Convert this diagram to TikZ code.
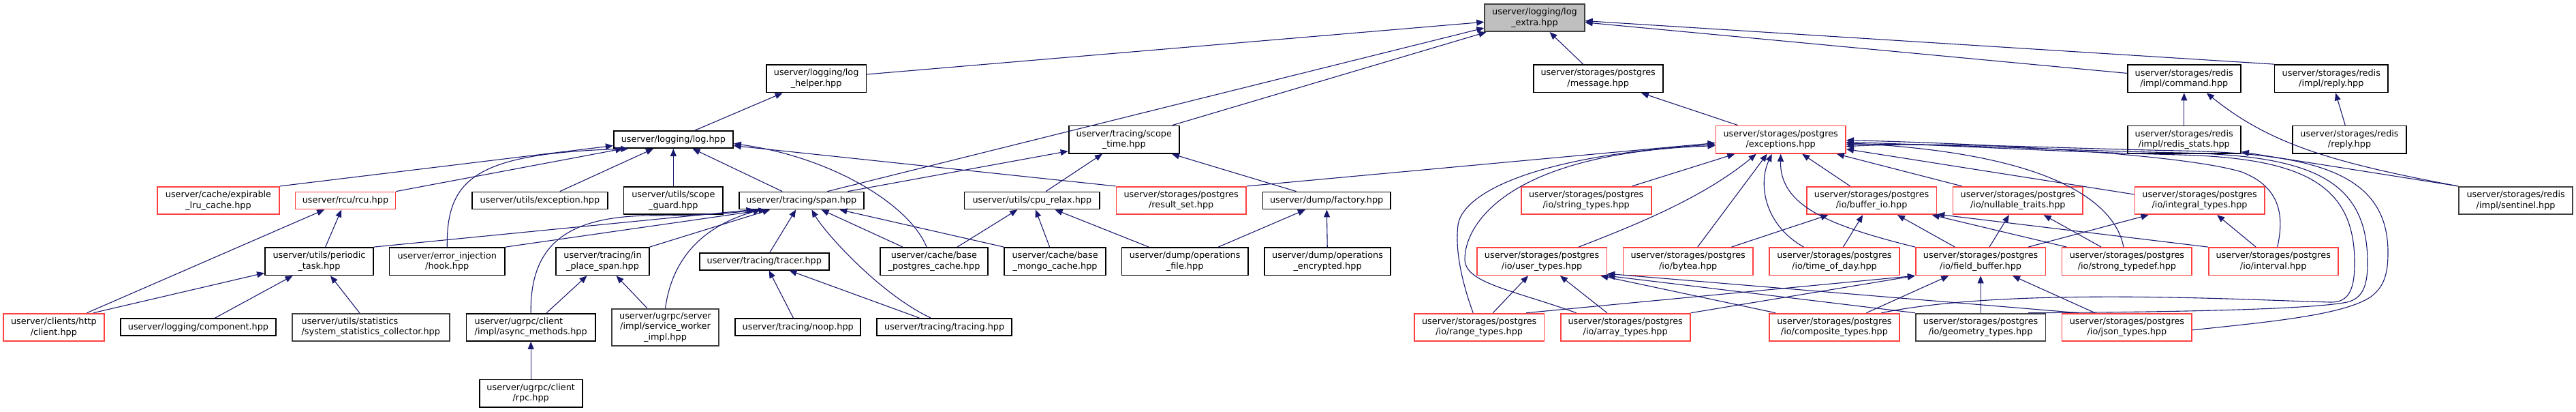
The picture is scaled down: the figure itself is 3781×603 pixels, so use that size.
\documentclass[tikz,border=0pt]{standalone}
\usepackage{fontspec}
\usetikzlibrary{arrows.meta}
\newfontfamily\dejavu{DejaVu Sans}
\newcommand\nfont{\dejavu\fontsize{12.84}{15.4}\selectfont}
\definecolor{edgec}{HTML}{191970}
\definecolor{redb}{HTML}{FF4040}
\definecolor{greyb}{HTML}{404040}
\definecolor{rootfill}{HTML}{BFBFBF}
\tikzset{
  box/.style={draw=black, line width=1.8pt, fill=white, inner sep=0pt, align=center, font=\nfont, minimum height=40.4pt},
  redbox/.style={box, draw=redb},
  greybox/.style={box, draw=greyb},
  one/.style={minimum height=25pt},
  three/.style={minimum height=54.3pt},
  edge/.style={draw=edgec, line width=1.1pt, -{Triangle[length=11pt,width=9pt]}}
}
\begin{document}
\begin{tikzpicture}[x=1pt,y=-1pt]
\useasboundingbox (0,0) rectangle (3781,603);
% row 0
\node[greybox, fill=rootfill, minimum width=146.5pt] (logextra) at (2252.45,26) {userver/logging/log\\\_extra.hpp};
% row 1
\node[box, minimum width=146.5pt] (loghelper) at (1198.15,115.2) {userver/logging/log\\\_helper.hpp};
\node[box, minimum width=190.2pt] (message) at (2345.7,115.2) {userver/storages/postgres\\/message.hpp};
\node[box, minimum width=166.3pt] (command) at (3205.75,115.2) {userver/storages/redis\\/impl/command.hpp};
\node[box, minimum width=166.8pt] (implreply) at (3421.8,115.2) {userver/storages/redis\\/impl/reply.hpp};
% row 2
\node[box, one, minimum width=175.1pt] (log) at (988.35,204.6) {userver/logging/log.hpp};
\node[box, minimum width=162.4pt] (scopetime) at (1649.8,204.6) {userver/tracing/scope\\\_time.hpp};
\node[redbox, minimum width=190.6pt] (exceptions) at (2613.7,204.6) {userver/storages/postgres\\/exceptions.hpp};
\node[box, minimum width=166.3pt] (redisstats) at (3205.75,204.6) {userver/storages/redis\\/impl/redis\_stats.hpp};
\node[box, minimum width=166.4pt] (reply) at (3448.5,204.6) {userver/storages/redis\\/reply.hpp};
% row 3
\node[redbox, minimum width=179pt] (expirable) at (320.5,294) {userver/cache/expirable\\\_lru\_cache.hpp};
\node[redbox, one, minimum width=146.9pt] (rcu) at (506.95,294) {userver/rcu/rcu.hpp};
\node[box, one, minimum width=198.8pt] (uexception) at (792.4,294) {userver/utils/exception.hpp};
\node[box, minimum width=145.7pt] (scopeguard) at (988.35,294) {userver/utils/scope\\\_guard.hpp};
\node[box, one, minimum width=182.9pt] (span) at (1176.35,294) {userver/tracing/span.hpp};
\node[box, one, minimum width=198.8pt] (cpurelax) at (1514.9,294) {userver/utils/cpu\_relax.hpp};
\node[redbox, minimum width=190.6pt] (resultset) at (1733.7,294) {userver/storages/postgres\\/result\_set.hpp};
\node[box, one, minimum width=187.3pt] (factory) at (1947.15,294) {userver/dump/factory.hpp};
\node[redbox, minimum width=191pt] (stringtypes) at (2328.2,294) {userver/storages/postgres\\/io/string\_types.hpp};
\node[redbox, minimum width=190.6pt] (bufferio) at (2747.1,294) {userver/storages/postgres\\/io/buffer\_io.hpp};
\node[redbox, minimum width=190.6pt] (nullable) at (2961.8,294) {userver/storages/postgres\\/io/nullable\_traits.hpp};
\node[redbox, minimum width=190.3pt] (integral) at (3228.55,294) {userver/storages/postgres\\/io/integral\_types.hpp};
\node[greybox, minimum width=167.2pt] (sentinel) at (3692.6,294) {userver/storages/redis\\/impl/sentinel.hpp};
% row 4
\node[box, minimum width=159pt] (periodic) at (468.5,383.2) {userver/utils/periodic\\\_task.hpp};
\node[box, minimum width=169.8pt] (hook) at (656.3,383.2) {userver/error\_injection\\/hook.hpp};
\node[box, minimum width=136.4pt] (inplace) at (884.5,383.2) {userver/tracing/in\\\_place\_span.hpp};
\node[box, one, minimum width=189.8pt] (tracer) at (1121.8,383.2) {userver/tracing/tracer.hpp};
\node[box, minimum width=158.4pt] (basepg) at (1371,383.2) {userver/cache/base\\\_postgres\_cache.hpp};
\node[box, minimum width=148.6pt] (basemongo) at (1548.6,383.2) {userver/cache/base\\\_mongo\_cache.hpp};
\node[box, minimum width=185.3pt] (opfile) at (1739.15,383.2) {userver/dump/operations\\\_file.hpp};
\node[box, minimum width=184.5pt] (openc) at (1948.55,383.2) {userver/dump/operations\\\_encrypted.hpp};
\node[redbox, minimum width=190.6pt] (usertypes) at (2263.1,383.2) {userver/storages/postgres\\/io/user\_types.hpp};
\node[redbox, minimum width=190.6pt] (bytea) at (2477.7,383.2) {userver/storages/postgres\\/io/bytea.hpp};
\node[redbox, minimum width=190.7pt] (timeofday) at (2692.45,383.2) {userver/storages/postgres\\/io/time\_of\_day.hpp};
\node[redbox, minimum width=190.6pt] (fieldbuffer) at (2907.1,383.2) {userver/storages/postgres\\/io/field\_buffer.hpp};
\node[redbox, minimum width=190.8pt] (strongtypedef) at (3121.9,383.2) {userver/storages/postgres\\/io/strong\_typedef.hpp};
\node[redbox, minimum width=190.2pt] (interval) at (3336.7,383.2) {userver/storages/postgres\\/io/interval.hpp};
% row 5
\node[redbox, minimum width=148.1pt] (client) at (78.95,479.8) {userver/clients/http\\/client.hpp};
\node[box, one, minimum width=228.6pt] (component) at (291,479.5) {userver/logging/component.hpp};
\node[greybox, align=left, minimum width=230.6pt] (sysstats) at (544.3,479.8) {userver/utils/statistics\\/system\_statistics\_collector.hpp};
\node[box, align=left, minimum width=189.4pt] (asyncmethods) at (779.2,479.8) {userver/ugrpc/client\\/impl/async\_methods.hpp};
\node[greybox, three, minimum width=157.1pt] (serviceworker) at (976.55,479.8) {userver/ugrpc/server\\/impl/service\_worker\\\_impl.hpp};
\node[box, one, minimum width=184.1pt] (noop) at (1171.25,479.5) {userver/tracing/noop.hpp};
\node[box, one, minimum width=197.6pt] (tracing) at (1386.1,479.5) {userver/tracing/tracing.hpp};
\node[redbox, minimum width=190.6pt] (rangetypes) at (2171.2,479.8) {userver/storages/postgres\\/io/range\_types.hpp};
\node[redbox, minimum width=190.2pt] (arraytypes) at (2385.7,479.8) {userver/storages/postgres\\/io/array\_types.hpp};
\node[redbox, minimum width=190.7pt] (composite) at (2692.45,479.8) {userver/storages/postgres\\/io/composite\_types.hpp};
\node[greybox, minimum width=190.6pt] (geometry) at (2907.1,479.8) {userver/storages/postgres\\/io/geometry\_types.hpp};
\node[redbox, minimum width=190.8pt] (json) at (3121.9,479.8) {userver/storages/postgres\\/io/json\_types.hpp};
% row 6
\node[box, minimum width=151pt] (rpc) at (779.2,576.7) {userver/ugrpc/client\\/rpc.hpp};

% ---------- edges ----------
% to log_extra
\draw[edge] (loghelper) -- (logextra);
\draw[edge] ([xshift=38pt]span.north) -- ([yshift=-15pt]logextra.west);
\draw[edge] (scopetime) -- (logextra);
\draw[edge] (message) -- (logextra);
\draw[edge] (command) -- (logextra);
\draw[edge] (implreply.north west) -- (logextra);
% to log_helper, message
\draw[edge] (log) -- (loghelper);
\draw[edge] (exceptions) -- (message);
% redis
\draw[edge] (redisstats) -- (command);
\draw[edge] (sentinel.north west) .. controls (3420,238) and (3330,210) .. ([xshift=33pt]command.south);
\draw[edge] (sentinel.north west) -- ([yshift=3pt]redisstats.south east);
\draw[edge] (reply) -- (implreply);
% to log
\draw[edge] (expirable.north east) -- ([yshift=-9pt]log.west);
\draw[edge] (rcu.north east) -- ([xshift=-74pt]log.south);
\draw[edge] (hook.north) .. controls (655,260) and (700,225) .. ([xshift=-66pt]log.south);
\draw[edge] (uexception) -- (log);
\draw[edge] (scopeguard) -- (log);
\draw[edge] (span) -- (log);
\draw[edge] (resultset.north west) -- ([yshift=-9pt]log.east);
\draw[edge] ([xshift=-11pt]basepg.north) .. controls (1335,300) and (1220,230) .. ([yshift=-6pt]log.east);
% to span
\draw[edge] (periodic.north east) -- ([xshift=-70pt]span.south);
\draw[edge] (hook.north east) -- ([xshift=-52pt]span.south);
\draw[edge] (asyncmethods.north) .. controls (778,360) and (830,316) .. (960,316) .. controls (1030,316) and (1080,312) .. ([xshift=-68pt]span.south);
\draw[edge] (inplace.north east) -- ([xshift=-46pt]span.south);
\draw[edge] (serviceworker.north) .. controls (985,390) and (1020,335) .. ([xshift=-60pt]span.south);
\draw[edge] (tracer) -- (span);
\draw[edge] ([xshift=-20pt]tracing.north) .. controls (1290,430) and (1210,340) .. ([xshift=15pt]span.south);
\draw[edge] (basepg) -- (span);
\draw[edge] (basemongo.north west) -- ([xshift=56pt]span.south);
\draw[edge] ([xshift=68pt]span.north) -- ([yshift=-17pt]scopetime.west);
% to scope_time
\draw[edge] (cpurelax) -- (scopetime);
\draw[edge] (factory) -- (scopetime);
% rcu, periodic
\draw[edge] (periodic) -- (rcu);
\draw[edge] (client) -- (rcu);
\draw[edge] ([xshift=58pt]client.north) -- ([yshift=-17pt]periodic.west);
\draw[edge] (component) -- (periodic);
\draw[edge] (sysstats) -- (periodic);
% in_place_span, async, tracer
\draw[edge] (asyncmethods) -- (inplace);
\draw[edge] (serviceworker) -- (inplace);
\draw[edge] (rpc) -- (asyncmethods);
\draw[edge] (noop) -- (tracer);
\draw[edge] (tracing) -- (tracer);
% cpu_relax, factory
\draw[edge] (basepg) -- (cpurelax);
\draw[edge] (basemongo) -- (cpurelax);
\draw[edge] (opfile) -- (cpurelax);
\draw[edge] (opfile) -- (factory);
\draw[edge] (openc) -- (factory);
% to exceptions
\draw[edge] (resultset.north east) -- ([yshift=-5pt]exceptions.west);
\draw[edge] ([xshift=-9pt]rangetypes.north) .. controls (2148,420) and (2135,370) .. (2140,330) .. controls (2145,290) and (2230,230) .. ([yshift=-7pt]exceptions.west);
\draw[edge] ([xshift=-72pt]arraytypes.north) .. controls (2220,425) and (2150,415) .. (2150,380) .. controls (2150,330) and (2210,225) .. ([yshift=-9pt]exceptions.west);
\draw[edge] (stringtypes) -- (exceptions);
\draw[edge] ([xshift=54pt]usertypes.north) .. controls (2400,330) and (2500,290) .. ([xshift=-36pt]exceptions.south);
\draw[edge] ([xshift=14pt]bytea.north) -- ([xshift=-20pt]exceptions.south);
\draw[edge] ([xshift=-45pt]timeofday.north) .. controls (2590,330) and (2580,270) .. ([xshift=-13pt]exceptions.south);
\draw[edge] (fieldbuffer.north west) .. controls (2680,330) and (2612,300) .. (exceptions.south);
\draw[edge] (bufferio) -- (exceptions);
\draw[edge] (nullable) -- (exceptions);
\draw[edge] ([xshift=-5pt]strongtypedef.north) .. controls (3105,300) and (3020,225) .. ([yshift=-5pt]exceptions.east);
\draw[edge] ([yshift=9pt]integral.west) -- ([yshift=-14pt]exceptions.east);
\draw[edge] ([xshift=6pt]interval.north) .. controls (3352,320) and (3350,275) .. (3290,252) .. controls (3200,225) and (2900,210) .. ([yshift=-1pt]exceptions.east);
\draw[edge] ([xshift=69pt]composite.north) .. controls (2950,420) and (3300,440) .. (3420,443) .. controls (3450,444) and (3456,420) .. (3456,385) .. controls (3456,270) and (3380,232) .. (3200,227) .. controls (3000,222) and (2850,212) .. ([yshift=-4pt]exceptions.east);
\draw[edge] ([xshift=70pt]geometry.north) .. controls (3100,458) and (3380,456) .. (3445,443) .. controls (3470,437) and (3475,415) .. (3475,385) .. controls (3475,262) and (3390,228) .. (3200,224) .. controls (3000,220) and (2850,210) .. ([yshift=-7pt]exceptions.east);
\draw[edge] ([yshift=-4pt]json.east) .. controls (3330,472) and (3440,462) .. (3480,435) .. controls (3500,420) and (3505,400) .. (3505,370) .. controls (3505,255) and (3400,225) .. (3200,221) .. controls (3000,217) and (2850,208) .. ([yshift=-10pt]exceptions.east);
% to buffer_io
\draw[edge] (bytea) -- (bufferio);
\draw[edge] (timeofday) -- (bufferio);
\draw[edge] (fieldbuffer) -- (bufferio);
\draw[edge] (strongtypedef) -- (bufferio);
\draw[edge] (interval.north west) -- ([yshift=1pt]bufferio.south east);
% to nullable, integral
\draw[edge] (fieldbuffer) -- (nullable);
\draw[edge] (strongtypedef) -- (nullable);
\draw[edge] ([xshift=70pt]fieldbuffer.north) -- ([xshift=-75pt]integral.south);
\draw[edge] (interval) -- (integral);
% to field_buffer
\draw[edge] ([xshift=69pt]rangetypes.north) -- (fieldbuffer.south west);
\draw[edge] (arraytypes.north east) -- (fieldbuffer.south west);
\draw[edge] (composite) -- (fieldbuffer);
\draw[edge] (geometry) -- (fieldbuffer);
\draw[edge] (json) -- (fieldbuffer);
% to user_types
\draw[edge] (rangetypes) -- (usertypes);
\draw[edge] (arraytypes) -- (usertypes);
\draw[edge] ([xshift=10pt]composite.north west) -- ([xshift=-10pt]usertypes.south east);
\draw[edge] (geometry.north west) -- (usertypes.south east);
\draw[edge] ([xshift=25pt]json.north west) -- ([yshift=3pt]usertypes.south east);
\end{tikzpicture}
\end{document}
